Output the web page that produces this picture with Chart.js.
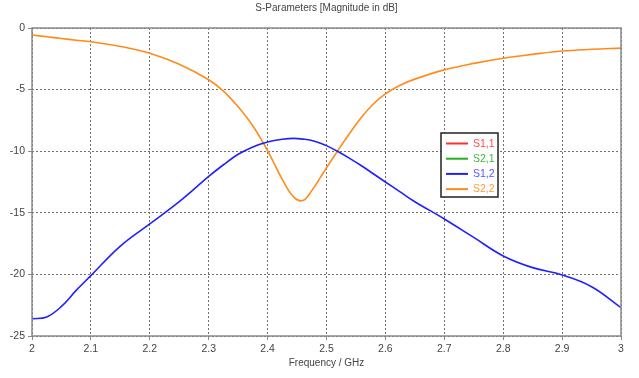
<!DOCTYPE html>
<html>
<head>
<meta charset="utf-8">
<script src="https://cdn.jsdelivr.net/npm/chart.js@4"></script>
<style>
  html, body { margin: 0; padding: 0; background: #fff; }
  #sparChart { display: block; }
</style>
</head>
<body>
<canvas id="sparChart" width="639" height="378"></canvas>
<script>
// frequency points (GHz)
const freqs = [2.00, 2.025, 2.05, 2.075, 2.10, 2.15, 2.20, 2.25, 2.30, 2.325, 2.35, 2.375, 2.40, 2.425, 2.445, 2.46,
               2.475, 2.49, 2.50, 2.52, 2.54, 2.56, 2.58, 2.60, 2.625, 2.65, 2.70, 2.75, 2.80, 2.85, 2.90, 2.95, 3.00];

// magnitude in dB (S1,1 and S2,1 are not visible in the plot)
const s11 = [];
const s21 = [];
const s12 = [-23.6, -23.45, -22.6, -21.3, -20.1, -17.7, -15.9, -14.1, -12.05, -11.1, -10.25, -9.65, -9.25, -9.03, -8.96, -9.02,
             -9.13, -9.35, -9.55, -10.05, -10.6, -11.2, -11.85, -12.5, -13.3, -14.1, -15.5, -17.0, -18.5, -19.45, -20.05, -21.0, -22.7];
const s22 = [-0.57, -0.71, -0.85, -0.99, -1.12, -1.5, -2.05, -2.95, -4.2, -5.12, -6.4, -7.95, -9.95, -12.3, -13.75, -14.0,
             -13.2, -12.1, -11.35, -9.9, -8.5, -7.2, -6.15, -5.35, -4.65, -4.15, -3.4, -2.87, -2.45, -2.14, -1.87, -1.73, -1.63];

const xTicks = [2, 2.1, 2.2, 2.3, 2.4, 2.5, 2.6, 2.7, 2.8, 2.9, 3];
const yTicks = [0, -5, -10, -15, -20, -25];

const FONT = 'Liberation Sans';
const TITLE = 'S-Parameters [Magnitude in dB]';

function toPoints(vals) {
    return vals.map((v, i) => ({ x: freqs[i], y: v }));
}

// title centred over the plot area
const plotTitle = {
    id: 'plotTitle',
    afterDraw(chart) {
        const a = chart.chartArea;
        const ctx = chart.ctx;
        ctx.save();
        ctx.font = '10px "' + FONT + '"';
        ctx.fillStyle = '#444';
        ctx.textAlign = 'center';
        ctx.textBaseline = 'middle';
        ctx.fillText(TITLE, (a.left + a.right) / 2, 8);
        ctx.restore();
    }
};

// legend box drawn inside the plot, like the CST window
const boxLegend = {
    id: 'boxLegend',
    afterDraw(chart) {
        const ctx = chart.ctx;
        const x = 441, y = 133, w = 57, h = 64;
        ctx.save();
        ctx.fillStyle = '#fff';
        ctx.fillRect(x, y, w, h);
        ctx.strokeStyle = '#222';
        ctx.lineWidth = 1.5;
        ctx.strokeRect(x, y, w, h);
        ctx.font = '10.5px "' + FONT + '"';
        ctx.textBaseline = 'middle';
        chart.data.datasets.forEach((ds, i) => {
            const ly = y + 10.5 + i * 15.2;
            ctx.strokeStyle = ds.borderColor;
            ctx.lineWidth = 2;
            ctx.beginPath();
            ctx.moveTo(x + 5, ly);
            ctx.lineTo(x + 27, ly);
            ctx.stroke();
            ctx.fillStyle = ds.labelColor;
            ctx.fillText(ds.label, x + 32, ly + 0.5);
        });
        ctx.restore();
    }
};

// gray frame around the plot area
const plotFrame = {
    id: 'plotFrame',
    afterDatasetsDraw(chart) {
        const a = chart.chartArea;
        const ctx = chart.ctx;
        ctx.save();
        ctx.strokeStyle = '#8a8a8a';
        ctx.lineWidth = 1.5;
        ctx.strokeRect(a.left, a.top, a.right - a.left, a.bottom - a.top);
        ctx.restore();
    }
};

const gridOpts = {
    color: '#707070',
    tickLength: 4,
    tickColor: '#8a8a8a',
    tickBorderDash: []
};

new Chart(document.getElementById('sparChart'), {
    type: 'line',
    data: {
        datasets: [
            { label: 'S1,1', data: toPoints(s11), borderColor: '#ff3030', labelColor: '#ff4a4a' },
            { label: 'S2,1', data: toPoints(s21), borderColor: '#22b022', labelColor: '#3cba3c' },
            { label: 'S1,2', data: toPoints(s12), borderColor: '#2020ff', labelColor: '#5555ff' },
            { label: 'S2,2', data: toPoints(s22), borderColor: '#ff8c1a', labelColor: '#ff9a3a' }
        ].map(ds => Object.assign(ds, {
            borderWidth: 1.6,
            pointRadius: 0,
            fill: false,
            tension: 0.4
        }))
    },
    options: {
        responsive: false,
        animation: false,
        layout: { padding: { left: 0, right: 18, top: 28, bottom: 0 } },
        scales: {
            x: {
                type: 'linear',
                min: 2,
                max: 3,
                afterFit: s => { s.height = 42; },
                afterBuildTicks: s => { s.ticks = xTicks.map(v => ({ value: v })); },
                ticks: {
                    callback: v => String(Math.round(v * 10) / 10),
                    color: '#444',
                    font: { family: FONT, size: 10.5 },
                    padding: 3,
                    maxRotation: 0
                },
                grid: gridOpts,
                border: { display: false, dash: [2, 2] },
                title: {
                    display: true,
                    text: 'Frequency / GHz',
                    color: '#444',
                    font: { family: FONT, size: 10 },
                    padding: { top: 0, bottom: 8.5 }
                }
            },
            y: {
                min: -25,
                max: 0,
                afterFit: s => { s.width = 32; },
                afterBuildTicks: s => { s.ticks = yTicks.map(v => ({ value: v })); },
                ticks: {
                    color: '#444',
                    font: { family: FONT, size: 10.5 },
                    padding: 3
                },
                grid: gridOpts,
                border: { display: false, dash: [2, 2] }
            }
        },
        plugins: {
            legend: { display: false },
            tooltip: { enabled: false },
            title: { display: false }
        }
    },
    plugins: [plotFrame, boxLegend, plotTitle]
});
</script>
</body>
</html>
